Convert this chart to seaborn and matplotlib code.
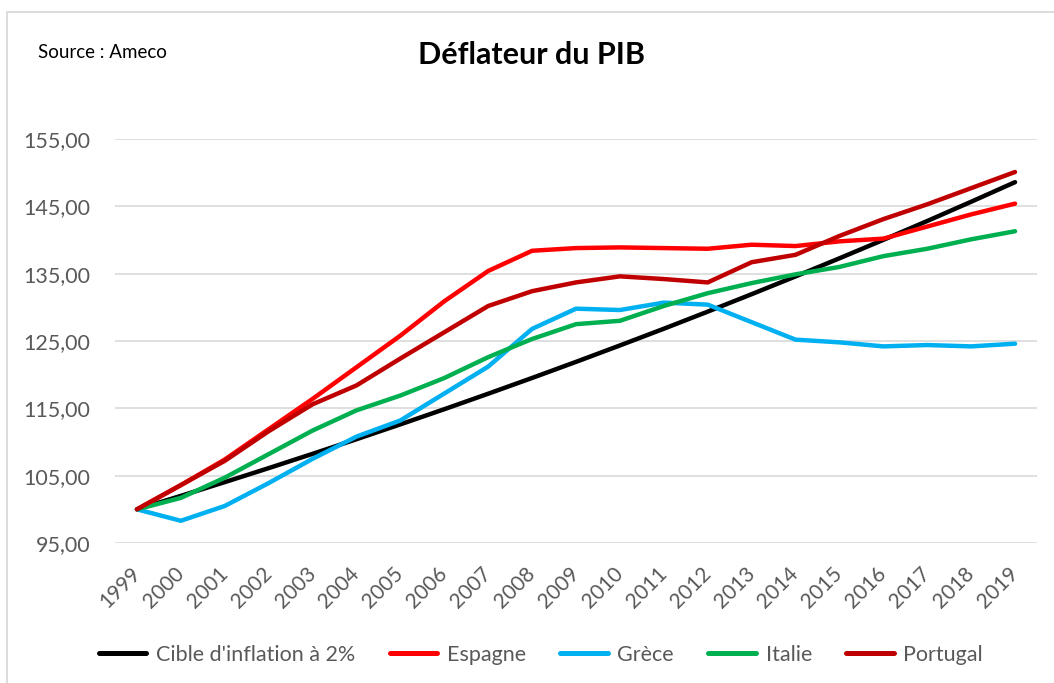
import pandas as pd
import numpy as np
import matplotlib.pyplot as plt
import seaborn as sns
from matplotlib.patches import Rectangle
from matplotlib.ticker import FuncFormatter

# Données (base 100 en 1999)
years = list(range(1999, 2020))
cible = [100.00, 102.00, 104.04, 106.12, 108.24, 110.41, 112.62, 114.87, 117.17, 119.51,
         121.90, 124.34, 126.82, 129.36, 131.95, 134.59, 137.28, 140.02, 142.82, 145.68, 148.59]
espagne = [100.0, 103.6, 107.4, 111.9, 116.4, 121.1, 125.8, 130.9, 135.4, 138.4,
           138.8, 138.9, 138.8, 138.7, 139.3, 139.1, 139.8, 140.2, 142.0, 143.8, 145.4]
grece = [100.0, 98.3, 100.5, 103.9, 107.5, 110.8, 113.2, 117.2, 121.2, 126.8,
         129.8, 129.6, 130.7, 130.4, 127.8, 125.2, 124.8, 124.2, 124.4, 124.2, 124.6]
italie = [100.0, 101.7, 104.7, 108.2, 111.7, 114.7, 116.9, 119.5, 122.6, 125.3,
          127.5, 128.0, 130.2, 132.1, 133.6, 134.9, 136.0, 137.6, 138.7, 140.1, 141.3]
portugal = [100.0, 103.6, 107.2, 111.6, 115.6, 118.4, 122.4, 126.3, 130.2, 132.4,
            133.7, 134.6, 134.2, 133.7, 136.7, 137.8, 140.6, 143.1, 145.3, 147.7, 150.1]

series_names = ["Cible d'inflation à 2%", 'Espagne', 'Grèce', 'Italie', 'Portugal']
series_colors = ['#000000', '#FF0000', '#00B0F0', '#00B050', '#C00000']
yticks = [95, 105, 115, 125, 135, 145, 155]

df = pd.DataFrame({'annee': years, series_names[0]: cible, 'Espagne': espagne,
                   'Grèce': grece, 'Italie': italie, 'Portugal': portugal})
df_long = df.melt(id_vars='annee', var_name='serie', value_name='valeur')

sns.set_theme(style='white')
plt.rcParams['font.family'] = ['Lato', 'DejaVu Sans']

fig = plt.figure(figsize=(10.54, 6.83), dpi=100)
ax = fig.add_axes([115 / 1054, 1 - 543 / 683, 922 / 1054, 404 / 683])

# cadre gris clair autour du graphique
fig.patches.append(Rectangle((7 / 1054, -0.1), 1.1, 1 - 12 / 683 + 0.1, transform=fig.transFigure,
                             fill=False, edgecolor='#D9D9D9', linewidth=1.3))

sns.lineplot(data=df_long, x='annee', y='valeur', hue='serie', hue_order=series_names,
             palette=series_colors, linewidth=3.2, ax=ax)

ax.set_xlim(1998.5, 2019.5)
ax.set_ylim(95, 155)
ax.set_yticks(yticks)
ax.yaxis.set_major_formatter(FuncFormatter(lambda v, p: f'{v:.2f}'.replace('.', ',')))
ax.set_xticks(years)
ax.set_xticklabels([str(y) for y in years], rotation=45, ha='right', va='center',
                   rotation_mode='anchor')
ax.tick_params(axis='x', length=0, pad=20, labelsize=15, labelcolor='#595959')
ax.tick_params(axis='y', length=0, pad=18, labelsize=15.5, labelcolor='#595959')
ax.grid(axis='y', color='#D9D9D9', linewidth=1.2)
ax.set_axisbelow(True)
for s in ax.spines.values():
    s.set_visible(False)
ax.set_xlabel('')
ax.set_ylabel('')

sns.move_legend(ax, 'center', bbox_to_anchor=((541 - 115) / 922, (543 - 655) / 404), ncol=5,
                frameon=False, title=None, fontsize=15.5, handlelength=2.2, handletextpad=0.45,
                columnspacing=1.6)
for t in ax.get_legend().get_texts():
    t.set_color('#595959')
for l in ax.get_legend().get_lines():
    l.set_linewidth(3.6)

fig.text(532 / 1054, 1 - 55 / 683, 'Déflateur du PIB', ha='center', va='center',
         fontsize=22, fontweight='bold', color='#000000')
fig.text(38 / 1054, 1 - 52 / 683, 'Source : Ameco', ha='left', va='center',
         fontsize=13.5, color='#000000')

fig.savefig('out.png', dpi=100, facecolor='white')
